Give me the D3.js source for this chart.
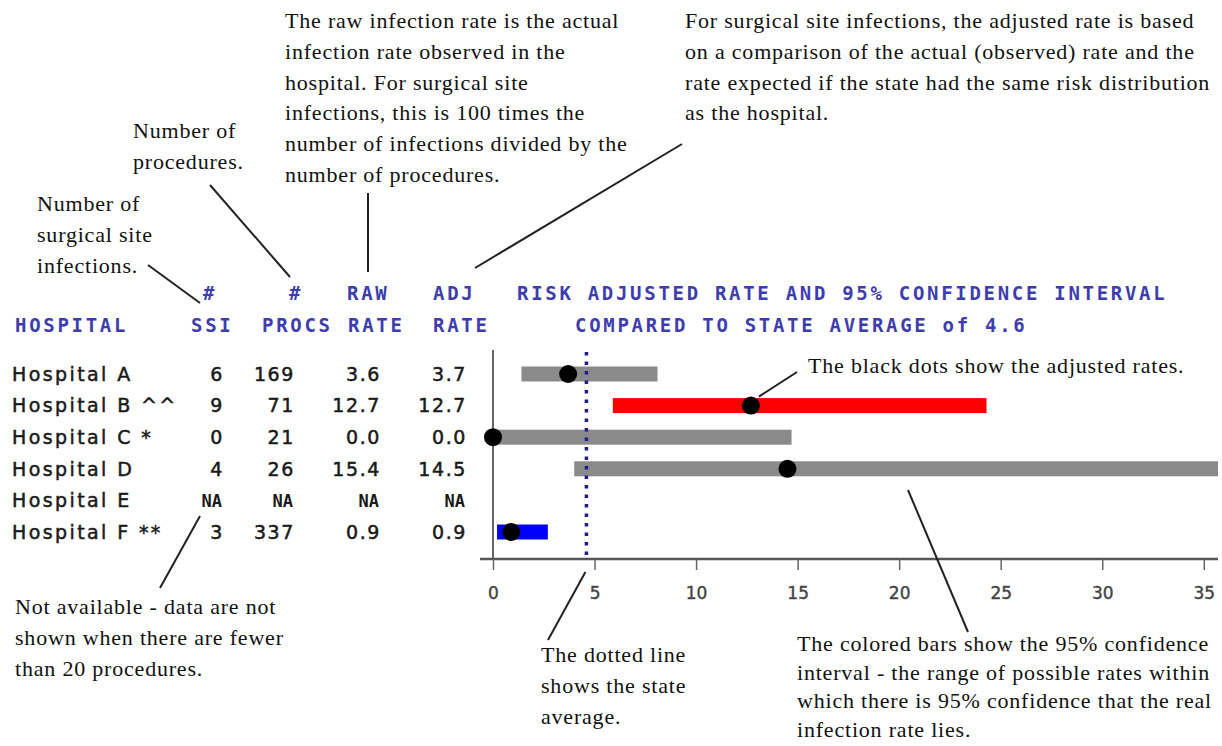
<!DOCTYPE html>
<html>
<head>
<meta charset="UTF-8">
<style>
  body { margin: 0; background: #fff; }
  .note { font-family: "Liberation Serif", serif; font-size: 22px; fill: #111; letter-spacing: 0.8px; }
  .head { font-family: "DejaVu Sans Mono", monospace; font-weight: bold; font-size: 19px; fill: #3d3db0; letter-spacing: 2.7px; }
  .cell { font-family: "DejaVu Sans", sans-serif; font-size: 19px; fill: #1a1a1a; stroke: #1a1a1a; stroke-width: 0.5px; letter-spacing: 1.6px; }
  .name { letter-spacing: 2.4px; }
  .na { font-family: "DejaVu Sans Mono", monospace; font-weight: bold; font-size: 17px; fill: #1a1a1a; }
  .leader { stroke: #222; stroke-width: 2; }
  .tick text { font-family: "DejaVu Sans", sans-serif; font-size: 17px; fill: #444; stroke: #444; stroke-width: 0.4px; }
</style>
</head>
<body>
<svg id="chart" width="1222" height="746"></svg>
<script src="https://cdn.jsdelivr.net/npm/d3@7"></script>
<script>
// table + interval data
var hospitals = ["Hospital A", "Hospital B", "Hospital C", "Hospital D", "Hospital E", "Hospital F"];
var flags     = ["", "^^", "*", "", "", "**"];
var ssi       = [6, 9, 0, 4, null, 3];
var procs     = [169, 71, 21, 26, null, 337];
var rawRate   = [3.6, 12.7, 0.0, 15.4, null, 0.9];
var adjRate   = [3.7, 12.7, 0.0, 14.5, null, 0.9];
var ciLow     = [1.4, 5.9, 0.0, 4.0, null, 0.2];
var ciHigh    = [8.1, 24.3, 14.7, 38, null, 2.7];
var compare   = ["same", "higher", "same", "same", null, "lower"];
var stateAvg  = 4.6;
var xTicks    = [0, 5, 10, 15, 20, 25, 30, 35];

var svg = d3.select("#chart");

var x = d3.scaleLinear().domain([0, 35.7]).range([493, 1218]).clamp(true);
var y = d3.scalePoint().domain(hospitals).range([374, 532]);
var color = d3.scaleOrdinal().domain(["same", "higher", "lower"]).range(["#8a8a8a", "#ff0000", "#0000ff"]);
var fmt = d3.format(".1f");

var rows = hospitals.map(function(h, i) {
  return {name: h, flag: flags[i], ssi: ssi[i], procs: procs[i], raw: rawRate[i],
          adj: adjRate[i], lo: ciLow[i], hi: ciHigh[i], cmp: compare[i]};
});

// ---- column headers
var heads = [
  ["#", 203, 300], ["#", 289, 300], ["RAW", 347, 300], ["ADJ", 433, 300],
  ["HOSPITAL", 15, 332], ["SSI", 191, 332], ["PROCS", 262, 332], ["RATE", 348, 332], ["RATE", 433, 332],
  ["RISK ADJUSTED RATE AND 95% CONFIDENCE INTERVAL", 517, 300],
  ["COMPARED TO STATE AVERAGE of " + stateAvg, 575, 332]
];
svg.selectAll(".head").data(heads).enter().append("text")
    .attr("class", "head")
    .attr("x", function(d) { return d[1]; })
    .attr("y", function(d) { return d[2]; })
    .text(function(d) { return d[0]; });

// ---- table rows
var row = svg.selectAll(".row").data(rows).enter().append("g")
    .attr("class", "row")
    .attr("transform", function(d) { return "translate(0," + y(d.name) + ")"; });

row.append("text").attr("class", "cell name").attr("x", 12).attr("dy", "0.36em")
    .text(function(d) { return d.name + (d.flag ? " " + d.flag : ""); });

var cols = [["ssi", 224, String], ["procs", 295, String], ["raw", 381, fmt], ["adj", 467, fmt]];
cols.forEach(function(c) {
  row.append("text")
      .attr("class", function(d) { return d[c[0]] == null ? "na" : "cell"; })
      .attr("x", function(d) { return d[c[0]] == null ? c[1] - 2 : c[1]; })
      .attr("dy", "0.36em")
      .attr("text-anchor", "end")
      .text(function(d) { return d[c[0]] == null ? "NA" : c[2](d[c[0]]); });
});

// ---- axes
var axisY = 559;
svg.append("line")
    .attr("x1", x(0)).attr("x2", x(0))
    .attr("y1", 350).attr("y2", axisY)
    .attr("stroke", "#666").attr("stroke-width", 2);

svg.append("line")
    .attr("x1", x.range()[0] - 13).attr("x2", x.range()[1])
    .attr("y1", axisY).attr("y2", axisY)
    .attr("stroke", "#555").attr("stroke-width", 2.5);

var xAxis = svg.append("g")
    .attr("transform", "translate(0," + axisY + ")")
    .call(d3.axisBottom(x).tickValues(xTicks).tickSize(11).tickPadding(17));
xAxis.select(".domain").remove();
xAxis.selectAll(".tick line").attr("stroke", "#666").attr("stroke-width", 1.5);

// ---- confidence bars + dots
var withData = rows.filter(function(d) { return d.adj != null; });

svg.selectAll(".ci").data(withData).enter().append("rect")
    .attr("class", "ci")
    .attr("x", function(d) { return x(d.lo); })
    .attr("width", function(d) { return x(d.hi) - x(d.lo); })
    .attr("y", function(d) { return y(d.name) - 7.5; })
    .attr("height", 15)
    .attr("fill", function(d) { return color(d.cmp); });

// state average
svg.append("line")
    .attr("x1", x(stateAvg)).attr("x2", x(stateAvg))
    .attr("y1", 352).attr("y2", axisY - 2)
    .attr("stroke", "#1e1e8c").attr("stroke-width", 3.5)
    .attr("stroke-dasharray", "3.5,6");

svg.selectAll(".dot").data(withData).enter().append("circle")
    .attr("class", "dot")
    .attr("cx", function(d) { return x(d.adj); })
    .attr("cy", function(d) { return y(d.name); })
    .attr("r", 9)
    .attr("fill", "#000");

// ---- explanatory notes
var notes = [
  {x: 37, y: 211, lines: ["Number of", "surgical site", "infections."]},
  {x: 133, y: 138, lines: ["Number of", "procedures."]},
  {x: 285, y: 28, lines: ["The raw infection rate is the actual", "infection rate observed in the",
    "hospital.  For surgical site", "infections, this is 100 times the",
    "number of infections divided by the", "number of procedures."]},
  {x: 685, y: 28, lines: ["For surgical site infections, the adjusted rate is based",
    "on a comparison of the actual (observed) rate and the",
    "rate expected if the state had the same risk distribution", "as the hospital."]},
  {x: 808, y: 373, lines: ["The black dots show the adjusted rates."]},
  {x: 15, y: 614, lines: ["Not available - data are not", "shown when there are fewer", "than 20 procedures."]},
  {x: 541, y: 662, lines: ["The dotted line", "shows the state", "average."]},
  {x: 797, y: 651, step: 28.7, lines: ["The colored bars show the 95% confidence",
    "interval - the range of possible rates within",
    "which there is 95% confidence that the real", "infection rate lies."]}
];

notes.forEach(function(n) {
  var t = svg.append("text").attr("class", "note").attr("x", n.x).attr("y", n.y);
  t.selectAll("tspan").data(n.lines).enter().append("tspan")
      .attr("x", n.x)
      .attr("dy", function(d, i) { return i ? (n.step || 30.8) : 0; })
      .text(function(d) { return d; });
});

var leaders = [
  [148, 265, 200, 303],
  [210, 185, 290, 277],
  [368, 193, 368, 272],
  [682, 144, 475, 268],
  [797, 372, x(adjRate[1]) + 8, y(hospitals[1]) - 9],
  [200, 516, 160, 588],
  [x(stateAvg) - 1, 572, 548, 640],
  [908, 490, 968, 632]
];
svg.selectAll(".leader").data(leaders).enter().append("line")
    .attr("class", "leader")
    .attr("x1", function(d) { return d[0]; })
    .attr("y1", function(d) { return d[1]; })
    .attr("x2", function(d) { return d[2]; })
    .attr("y2", function(d) { return d[3]; });
</script>
</body>
</html>
